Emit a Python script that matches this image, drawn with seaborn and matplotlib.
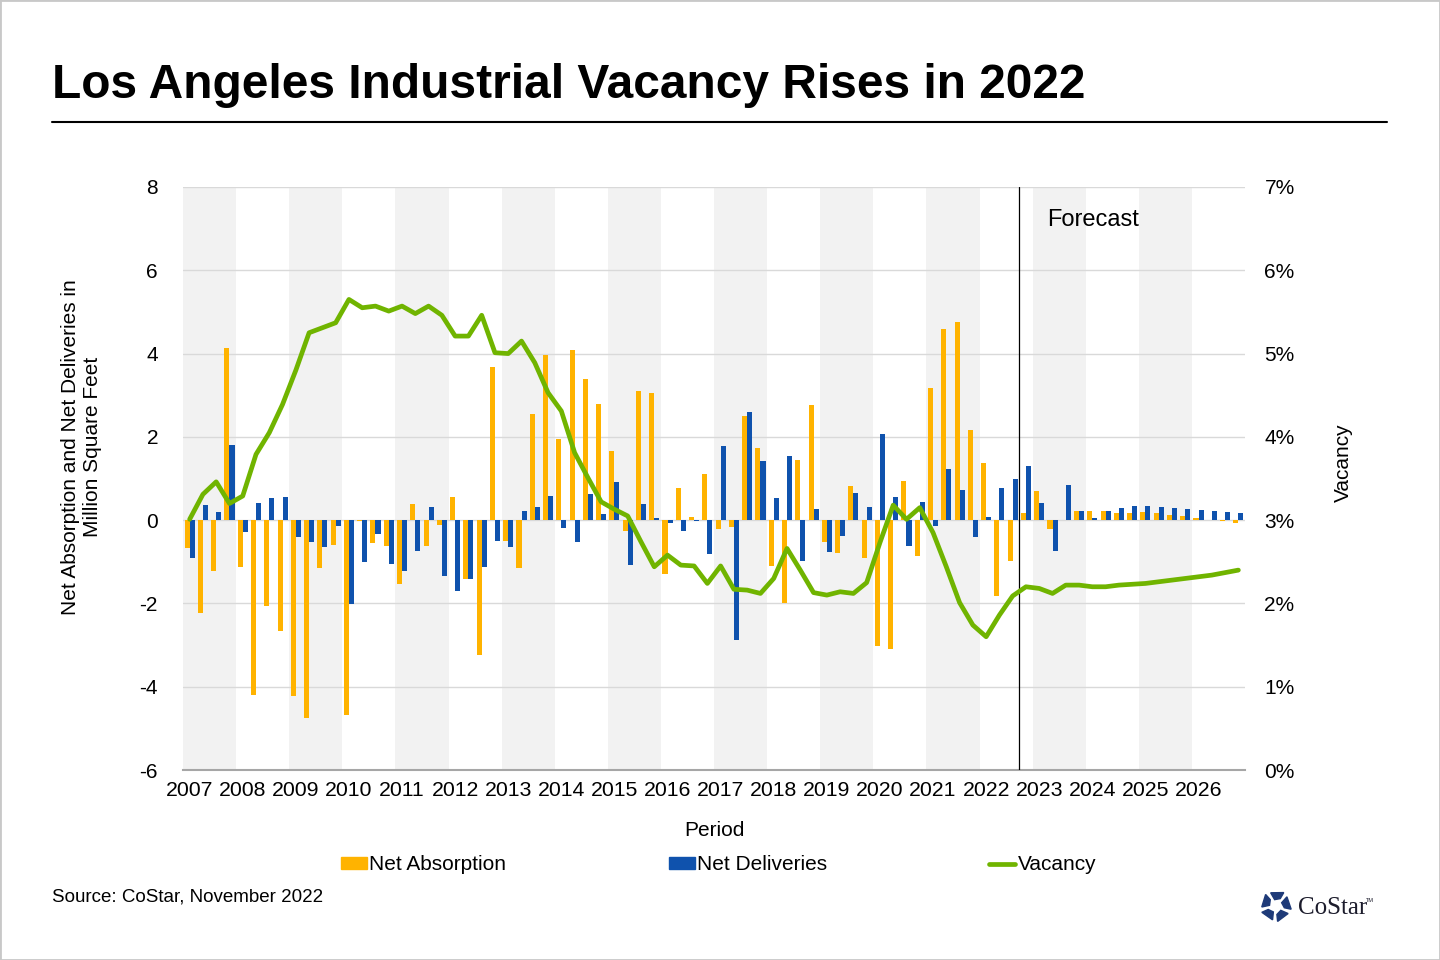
import numpy as np
import pandas as pd
import matplotlib
matplotlib.use("Agg")
import matplotlib.pyplot as plt
from matplotlib.patches import Patch, Polygon, Rectangle
from matplotlib.lines import Line2D
import seaborn as sns

# quarterly data, 2007 Q1 .. 2026 Q4
years = list(range(2007, 2027))
absorption = [
    -0.66, -2.23, -1.23, 4.13,
    -1.13, -4.19, -2.07, -2.67,
    -4.23, -4.74, -1.16, -0.60,
    -4.69, -0.02, -0.55, -0.63,
    -1.53, 0.39, -0.63, -0.11,
    0.56, -1.41, -3.25, 3.68,
    -0.49, -1.16, 2.55, 3.97,
    1.95, 4.08, 3.40, 2.80,
    1.67, -0.27, 3.11, 3.05,
    -1.29, 0.78, 0.08, 1.11,
    -0.22, -0.17, 2.51, 1.74,
    -1.09, -1.98, 1.45, 2.77,
    -0.53, -0.78, 0.83, -0.90,
    -3.03, -3.10, 0.95, -0.87,
    3.18, 4.60, 4.77, 2.17,
    1.38, -1.81, -0.97, 0.18,
    0.71, -0.22, 0.01, 0.23,
    0.23, 0.23, 0.18, 0.18,
    0.20, 0.18, 0.13, 0.11,
    0.04, 0.01, -0.02, -0.08,
]
deliveries = [
    -0.92, 0.36, 0.20, 1.81,
    -0.29, 0.42, 0.54, 0.56,
    -0.41, -0.53, -0.65, -0.15,
    -2.02, -1.01, -0.34, -1.05,
    -1.21, -0.73, 0.32, -1.35,
    -1.69, -1.42, -1.13, -0.51,
    -0.65, 0.23, 0.32, 0.59,
    -0.20, -0.53, 0.63, 0.15,
    0.92, -1.07, 0.39, 0.06,
    -0.08, -0.25, -0.02, -0.82,
    1.79, -2.87, 2.60, 1.43,
    0.54, 1.55, -0.97, 0.27,
    -0.77, -0.39, 0.66, 0.32,
    2.07, 0.56, -0.63, 0.44,
    -0.13, 1.23, 0.73, -0.41,
    0.08, 0.78, 0.99, 1.31,
    0.42, -0.75, 0.85, 0.23,
    0.06, 0.23, 0.30, 0.35,
    0.35, 0.32, 0.30, 0.27,
    0.25, 0.23, 0.20, 0.18,
]
vacancy = [
    3.01, 3.31, 3.46, 3.20,
    3.29, 3.79, 4.05, 4.39,
    4.80, 5.25, 5.31, 5.37,
    5.65, 5.55, 5.57, 5.51,
    5.57, 5.48, 5.57, 5.46,
    5.21, 5.21, 5.46, 5.01,
    5.00, 5.15, 4.89, 4.53,
    4.31, 3.81, 3.51, 3.22,
    3.13, 3.05, 2.74, 2.44,
    2.58, 2.46, 2.45, 2.24,
    2.45, 2.17, 2.16, 2.12,
    2.30, 2.66, 2.40, 2.13,
    2.10, 2.14, 2.12, 2.25,
    2.73, 3.18, 3.01, 3.15,
    2.85, 2.44, 2.01, 1.74,
    1.60, 1.86, 2.09, 2.20,
    2.18, 2.12, 2.22, 2.22,
    2.20, 2.20, 2.22, 2.23,
    2.24, 2.26, 2.28, 2.30,
    2.32, 2.34, 2.37, 2.40,
]
forecast_start = 63  # first forecast quarter (2022 Q4)

ORANGE = "#FFB300"
BLUE = "#0F52AD"
GREEN = "#70B400"
SHADE = "#F2F2F2"
GREY = "#A6A6A6"

sns.set_style("white")
plt.rcParams["font.family"] = ["Liberation Sans", "DejaVu Sans"]
plt.rcParams["axes.unicode_minus"] = False
plt.rcParams["text.color"] = "black"
plt.rcParams["xtick.color"] = "black"
plt.rcParams["ytick.color"] = "black"

q = np.arange(len(vacancy))
bars = pd.DataFrame({
    "quarter": np.concatenate([q, q]),
    "value": absorption + deliveries,
    "series": ["Net Absorption"] * len(q) + ["Net Deliveries"] * len(q),
})

fig = plt.figure(figsize=(14.4, 9.6), dpi=100)
ax = fig.add_axes([183 / 1440, 190 / 960, 1062 / 1440, 583 / 960])

# alternating year shading
for i, yr in enumerate(years):
    if i % 2 == 0:
        ax.axvspan(4 * i - 0.5, 4 * i + 3.5, color=SHADE, zorder=0, lw=0)

sns.barplot(data=bars, x="quarter", y="value", hue="series", native_scale=True,
            palette=[ORANGE, BLUE], width=0.76, saturation=1, linewidth=0,
            errorbar=None, legend=False, ax=ax, zorder=2)

ax.set_xlim(-0.5, len(q) - 0.5)
ax.set_ylim(-6, 8)
ax.set_yticks(range(-6, 9, 2))
ax.yaxis.grid(True, color="#D9D9D9", lw=1)
ax.set_axisbelow(True)
ax.tick_params(axis="y", length=0, pad=18, labelsize=15)
ax.set_xlabel("")
ax.set_ylabel("")

# year boundaries as ticks, year labels at first quarter
ax.set_xticks(np.arange(-0.5, len(q), 4))
ax.set_xticklabels([])
ax.set_xticks(np.arange(0, len(q), 4), minor=True)
ax.set_xticklabels([str(y) for y in years], minor=True)
ax.tick_params(axis="x", which="major", direction="inout", length=9.5, width=1.1, color=GREY)
ax.tick_params(axis="x", which="minor", length=0, pad=8, labelsize=15.3)
for s in ["top", "left", "right"]:
    ax.spines[s].set_visible(False)
ax.spines["bottom"].set_color(GREY)
ax.spines["bottom"].set_linewidth(1.5)

ax.axvline(forecast_start - 0.5, color="black", lw=0.9, zorder=3)
ax.text(forecast_start + 1.6, 7.2, "Forecast", fontsize=17, va="center", ha="left")

ax2 = ax.twinx()
sns.lineplot(x=q, y=vacancy, color=GREEN, lw=3.4, ax=ax2, zorder=4)
ax2.set_ylim(0, 7)
ax2.set_yticks(range(0, 8))
ax2.set_yticklabels([f"{v}%" for v in range(0, 8)])
ax2.tick_params(axis="y", length=0, pad=14, labelsize=15)
for s in ax2.spines.values():
    s.set_visible(False)

# titles and labels
fig.text(52 / 1440, 1 - 98 / 960, "Los Angeles Industrial Vacancy Rises in 2022",
         fontsize=34.5, fontweight="bold", va="baseline", ha="left")
fig.add_artist(Line2D([52 / 1440, 1387 / 1440], [1 - 122 / 960] * 2, color="black",
                      lw=1.5, transform=fig.transFigure))
fig.text(82 / 1440, 1 - 447 / 960, "Net Absorption and Net Deliveries in\nMillion Square Feet",
         rotation=90, ha="center", va="center", fontsize=15, multialignment="center")
fig.text(1343 / 1440, 1 - 463 / 960, "Vacancy", rotation=90, ha="center", va="center", fontsize=15)
fig.text(714 / 1440, 1 - 831 / 960, "Period", ha="center", va="center", fontsize=15)

handles = [Patch(color=ORANGE, label="Net Absorption"),
           Patch(color=BLUE, label="Net Deliveries"),
           Line2D([], [], color=GREEN, lw=3.4, label="Vacancy")]
fig.legend(handles=handles, loc="center left", bbox_to_anchor=(341 / 1440, 1 - 865 / 960),
           ncol=3, frameon=False, fontsize=15, handlelength=1.25, handleheight=0.55,
           handletextpad=0.1, columnspacing=7.8, borderpad=0, borderaxespad=0)

fig.text(52 / 1440, 1 - 897 / 960, "Source: CoStar, November 2022", fontsize=13.5,
         va="center", ha="left")

# CoStar logo
cx, cy, R = 1276, 906, 15.5
for k in range(5):
    a = np.deg2rad(90 + 72 * k)
    pts = []
    for r, d in [(R, -30), (R * 0.92, 22), (R * 0.42, 12), (R * 0.55, -30)]:
        ang = a + np.deg2rad(d)
        pts.append(((cx + r * np.cos(ang)) / 1440, 1 - (cy - r * np.sin(ang)) / 960))
    fig.add_artist(Polygon(pts, closed=True, color="#1E3A78", transform=fig.transFigure))
fig.text(1298 / 1440, 1 - 908 / 960, "CoStar", family=["Liberation Serif", "DejaVu Serif"],
         fontsize=18, color="#1C1C2C", va="center", ha="left")
fig.text(1366 / 1440, 1 - 901 / 960, "TM", fontsize=4, color="#1C1C2C", va="center", ha="left")

fig.add_artist(Rectangle((0, 0), 1, 1, transform=fig.transFigure, fill=False,
                         edgecolor="#C8C8C8", lw=2))

fig.savefig("out.png", dpi=100)
